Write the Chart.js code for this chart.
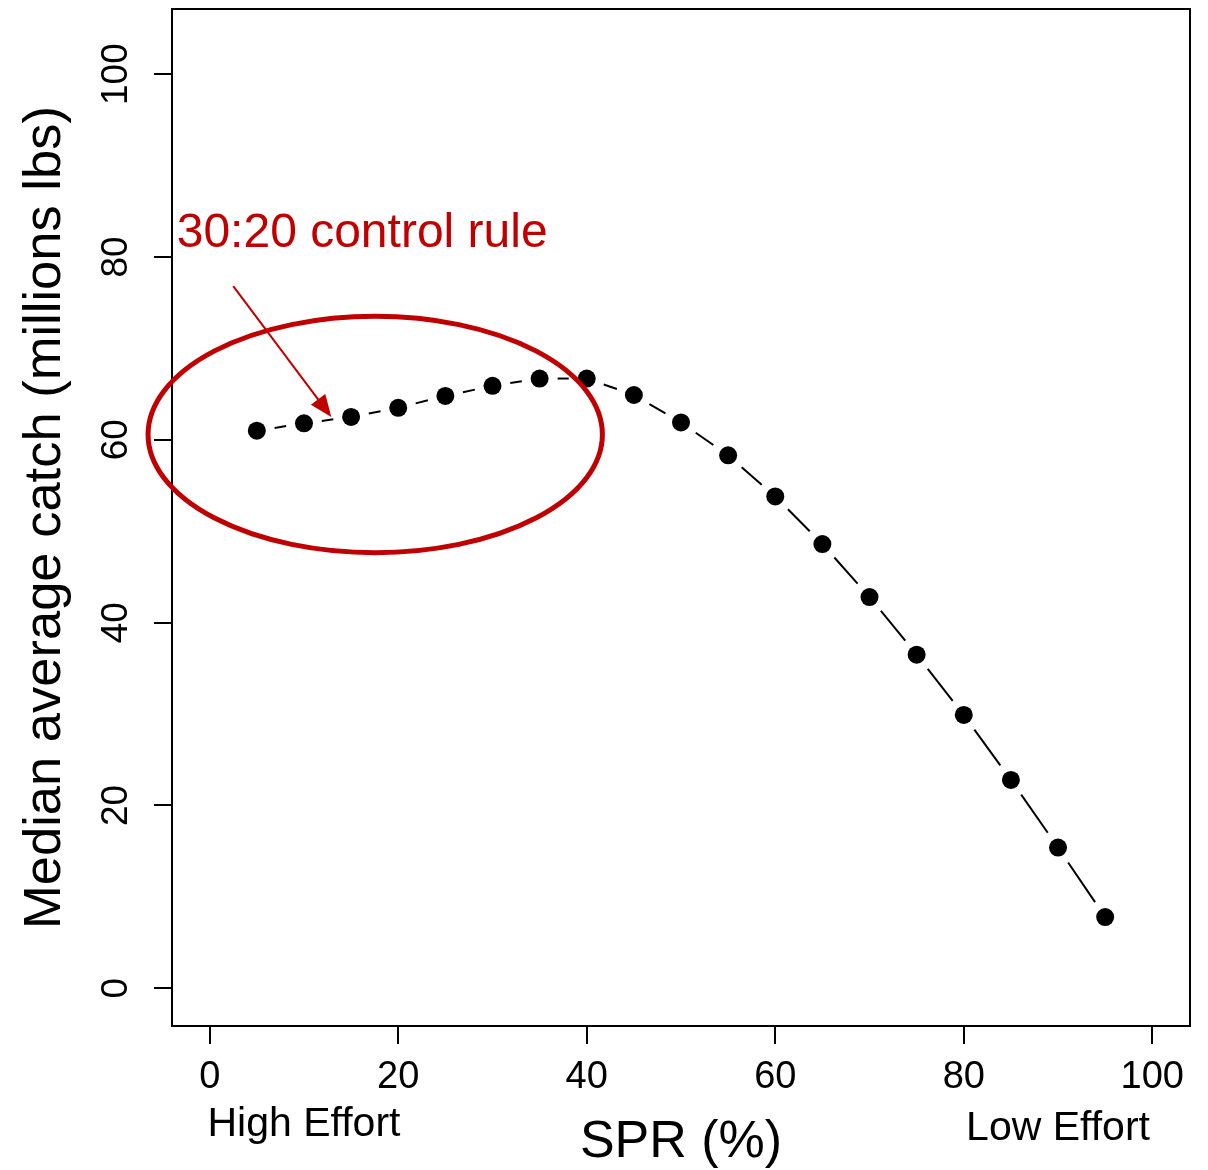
<!DOCTYPE html>
<html>
<head>
<meta charset="utf-8">
<script src="https://cdn.jsdelivr.net/npm/chart.js@4/dist/chart.umd.min.js"></script>
<style>
  html, body { margin: 0; padding: 0; background: #fff; }
  #wrap { width: 1208px; height: 1170px; }
</style>
</head>
<body>
<div id="wrap"><canvas id="catchChart" width="1208" height="1170"></canvas></div>
<script>
// values
const SPR = [5, 10, 15, 20, 25, 30, 35, 40, 45, 50, 55, 60, 65, 70, 75, 80, 85, 90, 95];
const CATCH = [61.0, 61.8, 62.5, 63.5, 64.8, 65.9, 66.7, 66.7, 64.9, 61.9, 58.3, 53.8, 48.6, 42.8, 36.5, 29.9, 22.8, 15.4, 7.8];
const X_TICKS = [0, 20, 40, 60, 80, 100];
const Y_TICKS = [0, 20, 40, 60, 80, 100];
const EFFORT_LABELS = ["High Effort", "Low Effort"];
const EFFORT_SPR = [10, 90];
const NOTE_TEXT = "30:20 control rule";

// annotation placement, in data units
const NOTE_AT = { x: -3.5, y: 81.1 };
const ARROW = { x0: 2.5, y0: 76.8, x1: 12.9, y1: 62.5 };
const ELLIPSE = { x: 17.56, y: 60.58, rx: 24.1, ry: 12.93 };

const RED = "#c00000";
const FONT = "'Liberation Sans', Arial, sans-serif";
const GAP = 18; // type="b" style gap around each point

Chart.defaults.font.family = FONT;
Chart.defaults.color = "#000";

const extras = {
  id: "extras",
  afterDraw(chart) {
    const { ctx, chartArea: a, scales: { x, y } } = chart;
    ctx.save();
    // box
    ctx.strokeStyle = "#000";
    ctx.lineWidth = 2;
    ctx.strokeRect(a.left, a.top, a.right - a.left, a.bottom - a.top);

    // effort labels under the axis
    ctx.fillStyle = "#000";
    ctx.font = "41px " + FONT;
    ctx.textAlign = "center";
    ctx.textBaseline = "alphabetic";
    ctx.fillText(EFFORT_LABELS[0], x.getPixelForValue(EFFORT_SPR[0]), 1136);
    ctx.fillText(EFFORT_LABELS[1], x.getPixelForValue(EFFORT_SPR[1]), 1140);

    // ellipse
    ctx.strokeStyle = RED;
    ctx.lineWidth = 5;
    const cx = x.getPixelForValue(ELLIPSE.x), cy = y.getPixelForValue(ELLIPSE.y);
    const rx = Math.abs(x.getPixelForValue(ELLIPSE.x + ELLIPSE.rx) - cx);
    const ry = Math.abs(y.getPixelForValue(ELLIPSE.y + ELLIPSE.ry) - cy);
    ctx.beginPath();
    ctx.ellipse(cx, cy, rx, ry, 0, 0, Math.PI * 2);
    ctx.stroke();

    // arrow
    const ax0 = x.getPixelForValue(ARROW.x0), ay0 = y.getPixelForValue(ARROW.y0);
    const ax1 = x.getPixelForValue(ARROW.x1), ay1 = y.getPixelForValue(ARROW.y1);
    const ang = Math.atan2(ay1 - ay0, ax1 - ax0);
    const hl = 22, hw = 9;
    ctx.lineWidth = 2;
    ctx.beginPath();
    ctx.moveTo(ax0, ay0);
    ctx.lineTo(ax1 - Math.cos(ang) * hl * 0.8, ay1 - Math.sin(ang) * hl * 0.8);
    ctx.stroke();
    ctx.fillStyle = RED;
    ctx.beginPath();
    ctx.moveTo(ax1, ay1);
    ctx.lineTo(ax1 - Math.cos(ang) * hl + Math.sin(ang) * hw, ay1 - Math.sin(ang) * hl - Math.cos(ang) * hw);
    ctx.lineTo(ax1 - Math.cos(ang) * hl - Math.sin(ang) * hw, ay1 - Math.sin(ang) * hl + Math.cos(ang) * hw);
    ctx.closePath();
    ctx.fill();

    // note
    ctx.font = "48px " + FONT;
    ctx.textAlign = "left";
    ctx.fillText(NOTE_TEXT, x.getPixelForValue(NOTE_AT.x), y.getPixelForValue(NOTE_AT.y));
    ctx.restore();
  }
};

new Chart(document.getElementById("catchChart").getContext("2d"), {
  type: "line",
  data: {
    datasets: [{
      data: SPR.map((s, i) => ({ x: s, y: CATCH[i] })),
      borderColor: "#000",
      borderWidth: 2,
      pointRadius: 9,
      pointBackgroundColor: "#000",
      pointBorderWidth: 0,
      tension: 0,
      segment: {
        borderDash: (c) => {
          const len = Math.hypot(c.p1.x - c.p0.x, c.p1.y - c.p0.y);
          return [0, GAP, Math.max(len - 2 * GAP, 0), 5000 + c.p0DataIndex];
        }
      }
    }]
  },
  options: {
    responsive: false,
    animation: false,
    devicePixelRatio: 1,
    layout: { padding: { left: 0, right: 18, top: 7, bottom: 0 } },
    plugins: { legend: { display: false }, tooltip: { enabled: false } },
    scales: {
      x: {
        type: "linear",
        min: -4,
        max: 104,
        afterBuildTicks: (s) => { s.ticks = X_TICKS.map((v) => ({ value: v })); },
        afterFit: (s) => { s.height = 144; s.paddingLeft = 0; s.paddingRight = 0; },
        border: { display: false },
        grid: { drawOnChartArea: false, drawTicks: true, tickLength: 18, color: "#000", lineWidth: 2 },
        ticks: { font: { size: 38 }, padding: 11, maxRotation: 0, color: "#000" },
        title: { display: true, text: "SPR (%)", font: { size: 52 }, padding: { top: 0, bottom: -4 }, color: "#000" }
      },
      y: {
        min: -4.12,
        max: 107.12,
        afterBuildTicks: (s) => { s.ticks = Y_TICKS.map((v) => ({ value: v })); },
        afterFit: (s) => { s.width = 172; s.paddingTop = 0; s.paddingBottom = 0; },
        border: { display: false },
        grid: { drawOnChartArea: false, drawTicks: true, tickLength: 18, color: "#000", lineWidth: 2 },
        ticks: { font: { size: 37 }, padding: 6, minRotation: 90, maxRotation: 90, crossAlign: "center", color: "#000" },
        title: { display: true, text: "Median average catch (millions lbs)", font: { size: 52.5 }, padding: { top: 14, bottom: 0 }, color: "#000" }
      }
    }
  },
  plugins: [extras]
});
</script>
</body>
</html>
